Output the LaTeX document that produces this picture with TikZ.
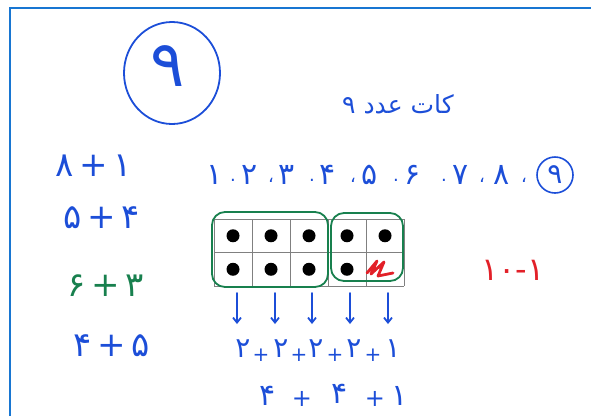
\documentclass[tikz,border=0pt]{standalone}
\usepackage{fontspec}
\newfontfamily\fafont[Script=Arabic]{DejaVu Sans}
\TeXXeTstate=1
\usetikzlibrary{arrows.meta}
\definecolor{penblue}{RGB}{28,78,216}
\definecolor{pengreen}{RGB}{24,128,78}
\definecolor{penred}{RGB}{226,32,40}
\definecolor{frameblue}{RGB}{24,118,210}
\tikzset{
  hand/.style={font=\fafont\fontsize{#1}{#1}\selectfont, text=penblue, inner sep=0pt},
  hand/.default=24,
  pen/.style={line width=1.8pt, line cap=round, line join=round},
  downarrow/.style={pen, penblue, -{Straight Barb[length=5pt,width=8pt]}},
  groupbox/.style={pen, pengreen, rounded corners=13pt},
}
\begin{document}
\begin{tikzpicture}[x=1pt,y=-1pt]
  \useasboundingbox (0,0) rectangle (591,416);
  % frame
  \draw[frameblue, line width=2.5pt] (10,416) -- (10,8) -- (591,8);

  % title
  \node (big9) [hand=64] at (168,66) {۹};
  \draw[pen, penblue] (172,73) ellipse (48 and 51);
  \node (title) [hand=25] at (398,104) {\beginR کات عدد ۹\endR};

  % counting row
  \foreach \d/\x [count=\i] in {۱/215, ۲/250, ۳/287, ۴/328, ۵/370, ۶/413, ۷/461, ۸/502}
    \node (c\i) [hand=30] at (\x,175) {\d};
  \foreach \s/\x in {./233, ،/271, ./312, ،/353, ./396, ./444, ،/482, ،/524}
    \node [hand=18] at (\x,180) {\s};
  \node (c9) [hand=28, draw=penblue, circle, line width=1.6pt, minimum size=36] at (555,175) {۹};

  % sums on the left
  \node (sumA) [hand=34] at (94,166) {\beginR ۱\,+\,۸\endR};
  \node (sumB) [hand=34] at (102,218) {\beginR ۴\,+\,۵\endR};
  \node (sumC) [hand=34, text=pengreen] at (106,286) {\beginR ۳\,+\,۶\endR};
  \node (sumD) [hand=34] at (112,346) {\beginR ۵\,+\,۴\endR};

  % ten frame
  \foreach \c in {0,...,5}
    \draw[gray, line width=0.7pt] (214+38*\c,219) -- (214+38*\c,286);
  \foreach \r in {0,1,2}
    \draw[gray, line width=0.7pt] (214,219+33.5*\r) -- (404,219+33.5*\r);
  \foreach \c in {0,...,4}
    \foreach \r in {0,1} {
      \ifnum\c\r=41\else
        \fill (233+38*\c,235.75+33.5*\r) circle (6.5);
      \fi
    }
  \draw[penred, line width=2.8pt, line cap=round, line join=round]
    (367,273) -- (377,261) -- (371,274) -- (384,262) -- (378,276) -- (393,273);
  \draw[groupbox] (212,212) rectangle (328,287);
  \draw[groupbox] (331,213) rectangle (403,281);

  \node (diff) [hand=32, text=penred] at (513,270) {\beginR ۱-\beginL ۱۰\endL\endR};

  % splitting the columns
  \foreach \x/\sx/\d [count=\i] in {237/243/۲, 275/281/۲, 312/316/۲, 350/354/۲, 388/393/۱} {
    \coordinate (a\i) at (\x,293);
    \node (s\i) [hand=28] at (\sx,349) {\d};
    \draw[downarrow] (a\i) -- ++(0,31);
  }
  \foreach \x in {261,299,335,373}
    \node [hand=20] at (\x,355) {+};

  \node (t1) [hand=30] at (268,396) {۴};
  \node (p1) [hand=24] at (302,399) {+};
  \node (t2) [hand=30] at (340,394) {۴};
  \node (p2) [hand=24] at (375,399) {+};
  \node (t3) [hand=30] at (400,396) {۱};
\end{tikzpicture}
\end{document}
